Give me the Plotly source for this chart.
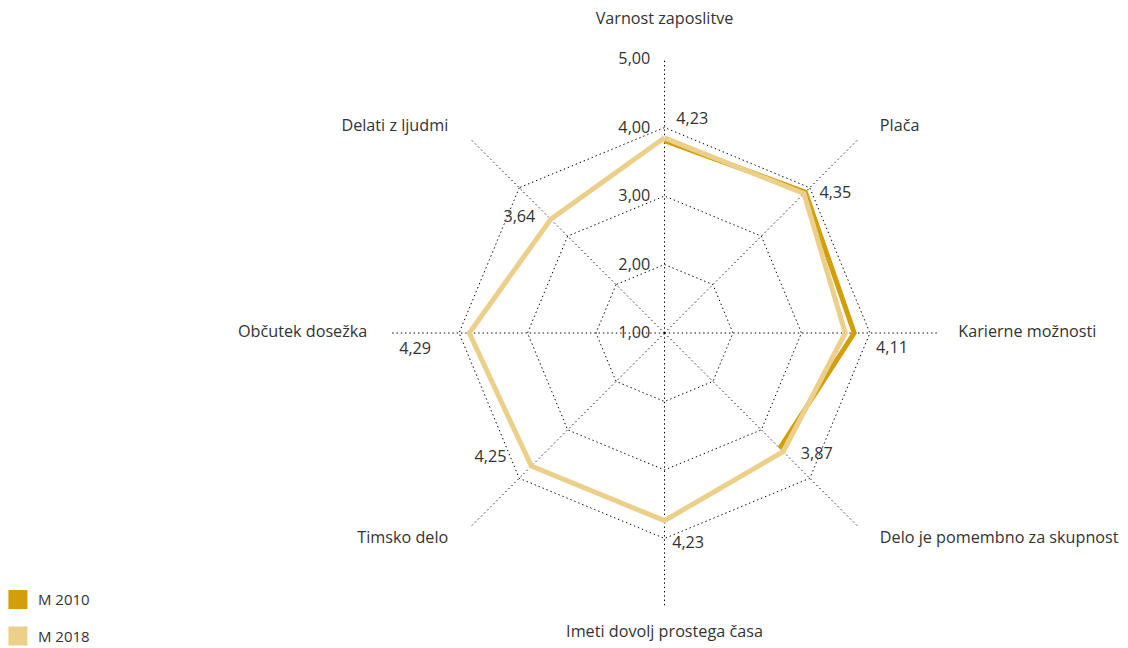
import plotly.graph_objects as go

# ---- data ----
categories = ["Varnost zaposlitve", "Plača", "Karierne možnosti",
              "Delo je pomembno za skupnost", "Imeti dovolj prostega časa",
              "Timsko delo", "Občutek dosežka", "Delati z ljudmi"]
m2018 = [3.85, 3.88, 3.64, 3.45, 3.74, 3.75, 3.85, 3.35]
m2010 = [3.81, 3.91, 3.77, 3.38]          # drawn only on the first four axes
value_labels = ["4,23", "4,35", "4,11", "3,87", "4,23", "4,25", "4,29", "3,64"]
radial_ticks = [1, 2, 3, 4, 5]
series_names = ["M 2010", "M 2018"]

# ---- layout constants (label placement in polar coords) ----
label_r = [4.14, 4.22, 4.33, 3.85, 4.10, 4.13, 4.65, 3.70]
label_angle = [7.4, 50.8, 93.9, 128.7, 173.6, 234.3, 266.1, 308.3]
cat_r = [5.45, 5.35, 5.29, 5.35, 5.255, 5.36, 5.34, 5.36]
cat_angle = [0, 46.3, 90, 133.7, 180, 226.4, 270, 313.6]
cat_pos = ["top center", "middle right", "middle right", "middle right",
           "bottom center", "middle left", "middle left", "middle left"]

C2010 = "#D39E0B"
C2018 = "#ECD08A"
TXT = "#333333"
FONT = "Open Sans"
FS = 16.2

W, H = 1120, 640          # page body has an 8px margin
CX, CY = 656.5, 325.0     # centre of the chart (px from top-left of figure)
R1 = 274.0                # radius of the gridded polar
R2 = 310.0                # radius of the overlay used for labels
R_RANGE = [1, 5.001]
unit_px = R1 / (R_RANGE[1] - R_RANGE[0])
R2_RANGE = [R_RANGE[0], R_RANGE[0] + R2 / unit_px]


def dom(radius):
    return (dict(x=[(CX - radius) / W, (CX + radius) / W],
                 y=[(H - CY - radius) / H, (H - CY + radius) / H]))


fig = go.Figure()

fig.add_trace(go.Scatterpolar(
    r=m2010, theta=categories[:len(m2010)], mode="lines",
    line=dict(color=C2010, width=5), showlegend=False, subplot="polar"))
fig.add_trace(go.Scatterpolar(
    r=m2018 + m2018[:1], theta=categories + categories[:1], mode="lines",
    line=dict(color=C2018, width=5), showlegend=False, subplot="polar"))

# value labels and category labels on an overlaid, invisible circular polar with the same scale
fig.add_trace(go.Scatterpolar(
    r=label_r, theta=label_angle, mode="text", text=value_labels,
    textposition="middle center", textfont=dict(size=FS, color=TXT, family=FONT),
    cliponaxis=False, showlegend=False, subplot="polar2"))
fig.add_trace(go.Scatterpolar(
    r=cat_r, theta=cat_angle, mode="text", text=categories,
    textposition=cat_pos, textfont=dict(size=FS, color=TXT, family=FONT),
    cliponaxis=False, showlegend=False, subplot="polar2"))

# legend entries
for name, col, grp in zip(series_names, [C2010, C2018], ["a", "b"]):
    fig.add_trace(go.Scatterpolar(
        r=[None], theta=[None], mode="markers", name=name, legendgroup=grp,
        marker=dict(symbol="square", size=18, color=col,
                    line=dict(color=col, width=3)),
        subplot="polar2"))

grid_dash = "1.4px,2.9px"

fig.update_layout(
    width=W, height=H,
    margin=dict(l=0, r=0, t=0, b=0, autoexpand=False),
    paper_bgcolor="white", plot_bgcolor="white",
    separators=", ",
    font=dict(family=FONT, size=FS, color=TXT),
    polar=dict(
        domain=dom(R1),
        gridshape="linear", bgcolor="rgba(0,0,0,0)",
        radialaxis=dict(range=R_RANGE, tickvals=radial_ticks, tickformat=".2f",
                        angle=90, side="counterclockwise", showline=False,
                        tickangle=90,
                        ticks="outside", ticklen=8, tickcolor="rgba(0,0,0,0)",
                        tickfont=dict(size=FS, color=TXT, family=FONT),
                        gridcolor="black", gridwidth=1.4, griddash=grid_dash),
        angularaxis=dict(rotation=90, direction="clockwise", showline=False,
                         showticklabels=False, ticks="",
                         gridcolor="black", gridwidth=1.4, griddash=grid_dash),
    ),
    polar2=dict(
        domain=dom(R2), bgcolor="rgba(0,0,0,0)",
        radialaxis=dict(range=R2_RANGE, visible=False),
        angularaxis=dict(rotation=90, direction="clockwise", visible=False),
    ),
    legend=dict(x=-0.009, y=-0.0065, xanchor="left", yanchor="bottom",
                traceorder="grouped", tracegroupgap=14,
                font=dict(size=15, color=TXT, family=FONT),
                bgcolor="rgba(0,0,0,0)"),
)

fig.write_html("out.html")
